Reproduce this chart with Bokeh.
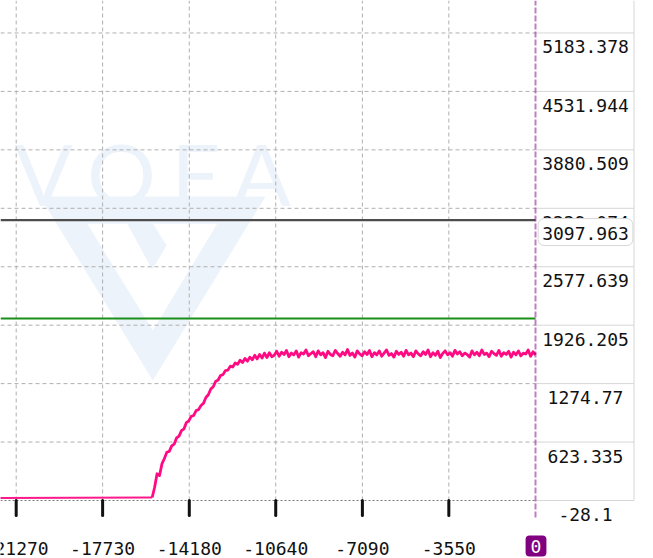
import numpy as np
from bokeh.plotting import figure
from bokeh.models import Label
from bokeh.core.properties import value
from bokeh.embed import file_html
from bokeh.resources import INLINE

# ---------------- data ----------------
x_tick_values = [-21270, -17730, -14180, -10640, -7090, -3550]
x_tick_labels = ["-21270", "-17730", "-14180", "-10640", "-7090", "-3550"]
y_tick_values = [-28.1, 623.335, 1274.77, 1926.205, 2577.639, 3229.074, 3880.509, 4531.944, 5183.378]
y_tick_labels = ["-28.1", "623.335", "1274.77", "1926.205", "2577.639", "3229.074", "3880.509", "4531.944", "5183.378"]

cursor_x = 0                 # time cursor (purple dashed line, label "0")
cursor_value = 3097.963      # dark grey line
target_value = 2000.0        # green line

baseline_t = [-22000, -15700]
baseline_v = [0.0, 5.0]

sample_step = 100
signal_values = [
    5, 120, 270, 250, 380, 440, 510, 520, 580, 600,
    670, 690, 750, 770, 840, 860, 910, 920, 975, 985,
    1030, 1055, 1120, 1150, 1215, 1240, 1300, 1315, 1365, 1375,
    1420, 1425, 1470, 1460, 1505, 1490, 1535, 1510, 1555, 1525,
    1570, 1540, 1590, 1550, 1600, 1560, 1615, 1565, 1620, 1575,
    1590, 1635, 1580, 1625, 1600, 1645, 1575, 1615, 1595, 1640,
    1570, 1620, 1605, 1650, 1585, 1610, 1630, 1575, 1640, 1595,
    1620, 1565, 1635, 1600, 1585, 1645, 1610, 1580, 1625, 1595,
    1655, 1590, 1615, 1570, 1640, 1605, 1585, 1630, 1600, 1645,
    1575, 1620, 1595, 1640, 1580, 1615, 1650, 1590, 1610, 1570,
    1635, 1600, 1625, 1580, 1645, 1595, 1615, 1575, 1640, 1605,
    1585, 1630, 1600, 1650, 1575, 1620, 1590, 1635, 1565, 1610,
    1640, 1595, 1620, 1580, 1645, 1605, 1630, 1585, 1615, 1600,
    1570, 1640, 1595, 1625, 1585, 1650, 1600, 1615, 1575, 1635,
    1610, 1590, 1645, 1580, 1620, 1600, 1635, 1570, 1625, 1595,
    1640, 1585, 1615, 1605, 1650, 1580, 1630, 1595,
]
n = len(signal_values)
signal_t = sample_step * (np.arange(n) - (n - 1))   # last sample at t = 0

# ---------------- geometry (page pixels -> data) ----------------
W, H = 653, 558
X_ZERO_PX = 535.0
X_SCALE = 0.024415          # px per unit
Y_BASE_PX = 500.0           # pixel row of -28.1
Y_SCALE = 0.08971           # px per unit
Y0 = y_tick_values[0]

def px2x(px):
    return (px - X_ZERO_PX) / X_SCALE

def py2y(py):
    return Y0 + (Y_BASE_PX - py) / Y_SCALE

def dy(px):
    return px / Y_SCALE

x_start, x_end = px2x(0), px2x(W)
y_start, y_end = py2y(H), py2y(0)
x_right = px2x(633.5)

MONO = value("DejaVu Sans Mono")
MONO_NAME = "DejaVu Sans Mono"

p = figure(width=W, height=H, x_range=(x_start, x_end), y_range=(y_start, y_end),
           output_backend="svg", toolbar_location=None,
           x_axis_location=None, y_axis_location=None,
           min_border_left=0, min_border_top=0, min_border_right=0, min_border_bottom=0,
           outline_line_color=None, background_fill_color="white", border_fill_color="white")
p.grid.visible = False

# ---------------- watermark ----------------
wm = "#edf3fb"
p.text(x=[px2x(43), px2x(121), px2x(195), px2x(261)], y=[py2y(172)] * 4,
       text=["V", "O", "F", "A"], text_font=value("Lato"), text_font_size="86px",
       text_color=wm, text_align="center", text_baseline="alphabetic", level="image")
p.multi_polygons(
    xs=[[[[px2x(39.3), px2x(265), px2x(152.3)], [px2x(86.7), px2x(216.7), px2x(152.3)]]]],
    ys=[[[[py2y(196), py2y(196), py2y(380)], [py2y(223.3), py2y(223.3), py2y(330)]]]],
    fill_color=wm, line_color=None, level="image")
p.patch(x=[px2x(136), px2x(166), px2x(151.7), px2x(126.7)],
        y=[py2y(196), py2y(245), py2y(269.3), py2y(223.3)],
        fill_color=wm, line_color=None, level="image")

# ---------------- grid / frame ----------------
grid_y = y_tick_values[1:]
p.segment(x0=[x_start] * len(grid_y), x1=[cursor_x] * len(grid_y), y0=grid_y, y1=grid_y,
          line_color="#b0b0b0", line_width=1, line_dash="4 3")
p.segment(x0=x_tick_values, x1=x_tick_values, y0=[Y0] * len(x_tick_values),
          y1=[y_end] * len(x_tick_values), line_color="#b0b0b0", line_width=1, line_dash="4 3")
p.segment(x0=[cursor_x] * len(y_tick_values), x1=[x_right] * len(y_tick_values),
          y0=y_tick_values, y1=y_tick_values, line_color="#d6d6d6", line_width=1)
p.segment(x0=[x_start], x1=[cursor_x], y0=[Y0], y1=[Y0],
          line_color="#7a7a7a", line_width=1.2, line_dash="2 2")
p.segment(x0=[x_right], x1=[x_right], y0=[Y0], y1=[y_end], line_color="#d6d6d6", line_width=1)

# ---------------- x axis (ticks + labels) ----------------
p.segment(x0=x_tick_values, x1=x_tick_values, y0=[Y0] * len(x_tick_values),
          y1=[Y0 - dy(15)] * len(x_tick_values), line_color="#111111", line_width=3,
          line_cap="round")
p.text(x=x_tick_values, y=[Y0 - dy(47.5)] * len(x_tick_values), text=x_tick_labels,
       text_font=MONO, text_font_size="18px", text_color="#111111",
       text_align="center", text_baseline="middle")

# ---------------- series ----------------
p.line([x_start, cursor_x], [cursor_value, cursor_value], line_color="#4d4d4d", line_width=2.2)
p.line([x_start, cursor_x], [target_value, target_value], line_color="#1a8f1a", line_width=2)
p.line(baseline_t, baseline_v, line_color="#ff1a8c", line_width=2)
p.line(signal_t, signal_values, line_color="#ff0a82", line_width=2.8, line_join="round")

# cursor line
p.segment(x0=[cursor_x], x1=[cursor_x], y0=[Y0 - dy(17)], y1=[y_end], line_color="#800080",
          line_alpha=0.5, line_width=2, line_dash="6 2")

# ---------------- right-side value labels ----------------
for v, s in zip(y_tick_values, y_tick_labels):
    p.add_layout(Label(x=cursor_x, y=v, x_offset=50, y_offset=-7.5, text=s,
                       text_align="center", text_baseline="top", text_font=MONO_NAME,
                       text_font_size="18px", text_color="#111111"))

p.add_layout(Label(x=cursor_x, y=cursor_value, x_offset=50, y_offset=1.5,
                   text=f"{cursor_value:.3f}", text_align="center", text_baseline="top",
                   text_font=MONO_NAME, text_font_size="18px", text_color="#111111",
                   background_fill_color="white", border_line_color="#d8d8d8",
                   border_radius=6, padding=dict(left=4, right=4, top=8, bottom=6)))

p.add_layout(Label(x=cursor_x, y=Y0, x_offset=0.5, y_offset=-45.5, text=str(cursor_x),
                   text_align="center", text_baseline="middle", text_font=MONO_NAME,
                   text_font_size="18px", text_color="white",
                   background_fill_color="#800080", border_line_color=None,
                   border_radius=4, padding=dict(left=5, right=5, top=4, bottom=4)))

open("out.html", "w").write(file_html(p, INLINE))
